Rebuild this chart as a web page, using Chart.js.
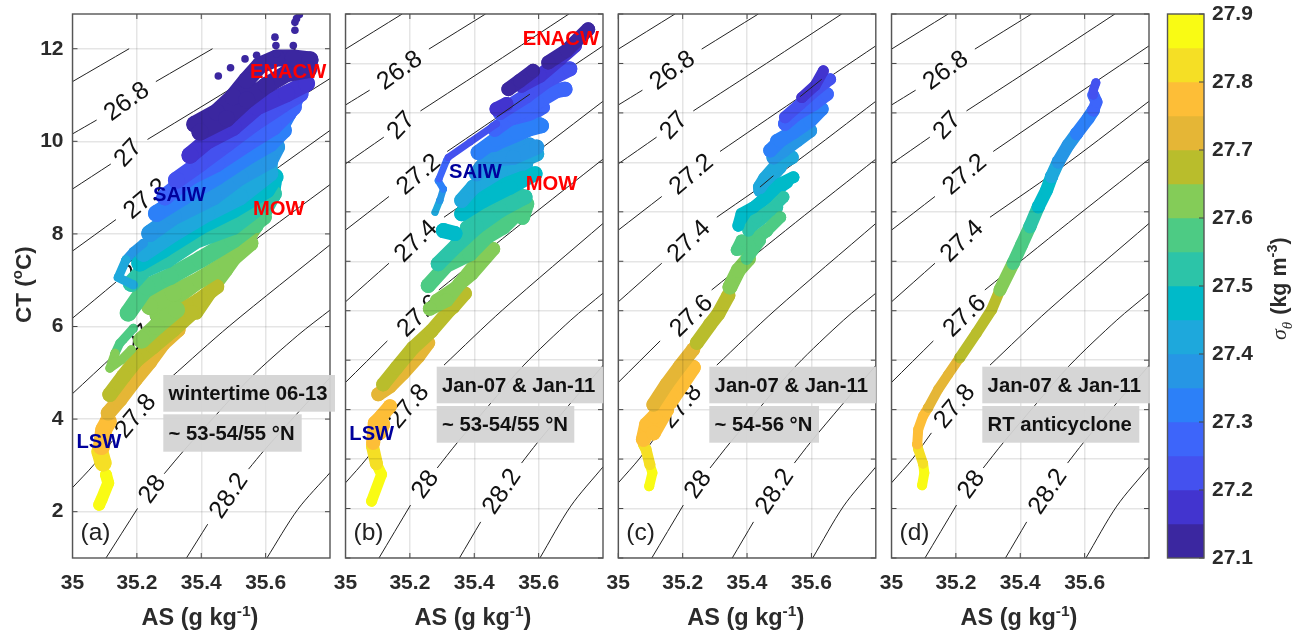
<!doctype html>
<html lang="en">
<head>
<meta charset="UTF-8" />
<title>CT-AS diagrams</title>
<script src="https://cdn.jsdelivr.net/npm/chart.js"></script>
<style>
  body { margin: 0; background: #fff; }
  canvas { position: absolute; left: 0; top: 0; }
</style>
</head>
<body>
<canvas id="panelA" width="1298" height="634"></canvas>
<canvas id="panelB" width="1298" height="634"></canvas>
<canvas id="panelC" width="1298" height="634"></canvas>
<canvas id="panelD" width="1298" height="634"></canvas>
<canvas id="colorbar" width="1298" height="634"></canvas>
<script>
// density bins, lightest first so the darker ones paint over them
const sigmaBins = [27.85, 27.8, 27.75, 27.7, 27.65, 27.6, 27.55, 27.5, 27.45, 27.4, 27.35, 27.3, 27.25, 27.2, 27.15, 27.1];
const binColors = ['#f9fb14', '#f5df25', '#fdbe37', '#e5b636', '#b9bd2c', '#84cc58', '#4dcb84', '#2cc4a8',
  '#00bac9', '#1ea8dc', '#2696e5', '#2c80f8', '#3d65fa', '#4451ef', '#4234cf', '#3b27a0'];
const sigmaTicks = [27.1, 27.2, 27.3, 27.4, 27.5, 27.6, 27.7, 27.8, 27.9];
const asTicks = [35, 35.2, 35.4, 35.6];
const ctTicksA = [2, 4, 6, 8, 10, 12];
const ctTicksOther = [1, 2, 3, 4, 5, 6, 7, 8, 9, 10, 11, 12];

// isopycnals, null = gap left for the inline label
const contourAS = [
  [35, 35.176],
  [35, 35.075, null, 35.259, 35.435],
  [35, 35.119, null, 35.233, 35.46, 35.694],
  [35, 35.135, null, 35.316, 35.55, 35.801],
  [35, 35.135, null, 35.306, 35.55, 35.801],
  [35, 35.13, null, 35.29, 35.55, 35.801],
  [35, 35.067, 35.124, null, 35.306, 35.487, 35.801],
  [35.104, 35.202, null, 35.285, 35.347, 35.446, 35.554, 35.7, 35.801],
  [35.354, 35.42, null, 35.547, 35.596, 35.694, 35.801],
  [35.604, 35.7, 35.801]
];
const contourCT = [
  [11.29, 12],
  [10.16, 10.46, null, 11.29, 12],
  [8.97, 9.51, null, 10.04, 11, 12],
  [7.63, 8.31, null, 9.22, 10.26, 11.36],
  [6.18, 6.96, null, 7.89, 9.0, 10.24],
  [4.55, 5.39, null, 6.42, 7.78, 9.07],
  [2.52, 3.02, 3.53, null, 4.9, 6.01, 7.77],
  [1, 2.07, null, 2.82, 3.33, 4.09, 4.9, 5.81, 6.36],
  [1, 1.73, null, 2.92, 3.33, 4.09, 4.9],
  [1, 2.05, 2.85]
];
const contourLabels = ['26.8', '27', '27.2', '27.4', '27.6', '27.8', '28', '28.2'];
const contourLabelAS = [35.169, 35.174, 35.228, 35.22, 35.228, 35.197, 35.249, 35.487];
const contourLabelCT = [10.85, 9.74, 8.75, 7.4, 5.89, 4.06, 2.48, 2.34];
const contourLabelRot = [-36, -47, -40, -44, -44, -50, -54, -56];

// panel (a), wintertime 06-13
const panelA_as = [
  [35.104, 35.111, 35.09, 35.083],
  [35.085, 35.095],
  [35.09, 35.097, 35.111],
  [35.111, 35.147, 35.194, 35.24, 35.282, 35.328],
  [35.116, 35.158, 35.199, 35.251, 35.313, 35.37, null, 35.313, 35.396, 35.448],
  [35.215, 35.261, 35.323, null, 35.24, 35.313, 35.396, 35.479, 35.551],
  [35.173, 35.23, 35.303, 35.396, 35.499, 35.593],
  [35.183, 35.22, 35.292, 35.385, 35.499, 35.593, 35.624],
  [35.209, 35.282, 35.396, 35.499, 35.603, 35.629],
  [35.22, 35.313, 35.417, 35.52, 35.613],
  [35.24, 35.313, 35.437, 35.52, 35.613, 35.634],
  [35.261, 35.344, 35.448, 35.541, 35.613, 35.655],
  [35.287, 35.365, 35.448, 35.541, 35.624, 35.686],
  [35.323, 35.396, 35.479, 35.562, 35.655, 35.707],
  [35.365, 35.417, 35.499, 35.572, 35.665, 35.727],
  [35.38, 35.448, 35.499, 35.541, 35.582, 35.634, 35.686, 35.738, null, 35.396, 35.479, 35.541, 35.603, 35.665, 35.733]
];
const panelA_ct = [
  [2.8, 2.62, 2.26, 2.15],
  [3.3, 3.05],
  [3.41, 3.77, 3.95],
  [4.13, 4.42, 4.85, 5.24, 5.64, 5.93],
  [4.53, 4.92, 5.28, 5.57, 5.93, 6.29, null, 6.22, 6.58, 6.86],
  [5.71, 6, 6.36, null, 6.43, 6.72, 7.01, 7.37, 7.8],
  [6.29, 6.86, 7.08, 7.44, 7.87, 8.37],
  [6.93, 7.22, 7.44, 7.87, 8.16, 8.66, 8.87],
  [7.37, 7.66, 8.16, 8.52, 8.95, 9.23],
  [7.58, 8.01, 8.44, 8.8, 9.31],
  [8.01, 8.37, 8.8, 9.23, 9.59, 9.88],
  [8.44, 8.8, 9.23, 9.66, 9.95, 10.24],
  [8.8, 9.23, 9.52, 9.95, 10.31, 10.74],
  [9.16, 9.52, 9.95, 10.38, 10.81, 11.03],
  [9.7, 10, 10.3, 10.74, 11.03, 11.25],
  [10.37, 10.63, 10.96, 11.32, 11.64, 11.8, 11.8, 11.76, null, 10.2, 10.49, 10.89, 11.21, 11.46, 11.55]
];
const widthsA = [12, 17, 17, 15, 15, 17, 17, 17, 17, 17, 17, 17, 17, 17, 17, 17];
const armsA_as = [
  [35.22, 35.189, 35.166],
  [35.166, 35.142, 35.189],
  [35.189, 35.147, 35.132],
  [35.132, 35.116, 35.152, 35.183]
];
const armsA_ct = [
  [7.8, 7.62, 7.44],
  [7.44, 7.06, 6.9],
  [5.96, 5.64, 5.42],
  [5.42, 5.1, 5.28, 5.5]
];
const armsA_bin = [10, 9, 6, 5];
// points under the stripes, along the right edge and in the gaps
const underA_as = [
  [35.712, 35.676], [35.676, 35.639], [35.639, 35.619], [35.619, 35.616], [35.616, 35.629, 35.624],
  [35.624, 35.603], [35.603, 35.572], [35.572, 35.541], [35.541, 35.479, 35.448], [35.448, 35.385],
  [35.17, 35.3], [35.26, 35.42], [35.2, 35.3]
];
const underA_ct = [
  [11.1, 10.6], [10.6, 10.13], [10.13, 9.66], [9.66, 9.31], [9.31, 9.09, 8.8],
  [8.8, 8.52], [8.52, 8.16], [8.16, 7.83], [7.83, 7.22, 6.93], [6.93, 6.29],
  [5.05, 6.05], [6.25, 7.1], [6.5, 7.0]
];
const underA_bin = [12, 11, 10, 9, 8, 7, 6, 5, 5, 4, 4, 5, 6];
const outlierA_as = [35.453, 35.491, 35.536, 35.572, 35.629, 35.632, 35.634, 35.691, 35.691, 35.686, 35.705, 35.696];
const outlierA_ct = [11.41, 11.59, 11.78, 11.86, 12.25, 12.07, 11.89, 12.57, 12.4, 12.07, 12.74, 12.65];

// panel (b)
const panelB_as = [
  [35.081, 35.112, 35.096],
  [35.096, 35.084],
  [35.086, 35.091, 35.112, 35.138, null, 35.107, 35.117],
  [35.102, 35.138, 35.179, 35.226, 35.257],
  [35.117, 35.159, 35.21, 35.267, 35.324, 35.335, 35.371],
  [35.262, 35.314, 35.355, 35.392, 35.459],
  [35.257, 35.314, 35.387, 35.438, 35.49, 35.563, 35.55],
  [35.288, 35.345, 35.407, 35.48, 35.558],
  [35.304, 35.34, null, 35.361, 35.428, 35.511, 35.589],
  [35.361, 35.397, 35.48, 35.594],
  [35.407, 35.438, 35.521, 35.594],
  [35.412, 35.469, 35.532, 35.609],
  [35.464, 35.521, 35.594, 35.656, 35.682],
  [35.48, 35.563, 35.625, 35.697],
  [35.469, 35.5, null, 35.547, 35.604, 35.666, 35.713],
  [35.506, 35.542, 35.583, null, 35.63, 35.687, 35.754]
];
const panelB_ct = [
  [2.15, 2.69, 2.91],
  [2.91, 3.26],
  [3.33, 3.73, 3.87, 4.07, null, 3.53, 3.7],
  [4.31, 4.47, 4.74, 5.08, 5.35],
  [4.51, 4.85, 5.25, 5.59, 6.02, 6.08, 6.35],
  [6.04, 6.21, 6.55, 6.75, 7.25],
  [6.51, 6.92, 7.15, 7.49, 7.69, 8.16, 7.89],
  [6.95, 7.32, 7.69, 8.03, 8.3],
  [7.62, 7.56, null, 7.96, 8.23, 8.5, 8.77],
  [8.23, 8.5, 8.83, 9.17],
  [8.77, 9.04, 9.1, 9.31],
  [9.2, 9.47, 9.61, 9.74],
  [9.67, 9.94, 10.21, 10.45, 10.48],
  [10.01, 10.35, 10.65, 10.89],
  [10.08, 10.18, null, 10.55, 10.75, 11.09, 11.36],
  [10.48, 10.65, 10.85, null, 11.02, 11.26, 11.69]
];
const widthsB = [11, 13, 14, 14, 14, 14, 15, 15, 15, 15, 15, 15, 15, 15, 14, 14];
const armsB_as = [
  [35.278, 35.293],
  [35.293, 35.304],
  [35.304, 35.288],
  [35.291, 35.314],
  [35.319, 35.387, 35.469]
];
const armsB_ct = [
  [7.99, 8.23],
  [8.23, 8.46],
  [8.46, 8.63],
  [8.67, 9.04],
  [9.1, 9.41, 9.78]
];
const armsB_bin = [9, 10, 11, 12, 13];
const underB_as = [
  [35.283, 35.345, 35.428], [35.345, 35.438, 35.521], [35.376, 35.469, 35.542], [35.387, 35.469, 35.552],
  [35.397, 35.48, 35.563], [35.418, 35.5, 35.573], [35.428, 35.511, 35.604], [35.49, 35.542, 35.615],
  [35.521, 35.604], [35.583, 35.656]
];
const underB_ct = [
  [6.21, 6.48, 7.15], [7.02, 7.62, 7.96], [7.69, 8.16, 8.36], [8.09, 8.5, 8.7],
  [8.36, 8.7, 8.97], [8.9, 9.17, 9.37], [9.24, 9.44, 9.78], [9.57, 9.81, 10.11],
  [10.11, 10.45], [10.65, 10.99]
];
const underB_bin = [5, 6, 7, 8, 9, 10, 11, 12, 13, 14];
const overB_as = [35.469, 35.573];
const overB_ct = [9.91, 10.38];

// panel (c)
const panelC_as = [
  [35.096, 35.106, 35.098],
  [35.098, 35.086, 35.078],
  [35.078, 35.088, 35.114, 35.161, 35.197, 35.233, null, 35.109, 35.15],
  [35.109, 35.15, 35.192, 35.233],
  [35.244, 35.285, 35.311, 35.342],
  [35.347, 35.373, 35.404],
  [35.368, 35.383, 35.42, 35.461, 35.503, null, 35.399, 35.44],
  [35.404, 35.43, 35.472, 35.513],
  [35.373, 35.383, 35.42, 35.461, 35.503, 35.544],
  [35.44, 35.456, 35.492, 35.539],
  [35.482, 35.513, 35.554, 35.596],
  [35.472, 35.503, 35.544, 35.596, 35.632],
  [35.518, 35.554, 35.606, 35.648],
  [35.518, 35.565, 35.617, 35.658],
  [35.57, 35.611, 35.637],
  []
];
const panelC_ct = [
  [2.45, 2.72, 2.89],
  [2.89, 3.2, 3.3],
  [3.4, 3.7, 3.87, 4.15, 4.5, 4.85, null, 3.53, 4.0],
  [4.1, 4.51, 4.88, 5.22],
  [5.35, 5.72, 5.94, 6.31],
  [6.48, 6.82, 7.05],
  [7.23, 7.42, 7.42, 7.62, 7.89, null, 7.05, 7.42],
  [7.62, 7.89, 8.03, 8.3],
  [7.72, 7.96, 8.09, 8.3, 8.57, 8.7],
  [8.5, 8.67, 8.94, 9.1],
  [9.1, 9.24, 9.44, 9.64],
  [9.24, 9.44, 9.61, 9.84, 10.08],
  [9.78, 9.98, 10.18, 10.38],
  [9.91, 10.18, 10.48, 10.68],
  [10.31, 10.55, 10.85],
  []
];
const widthsC = [10, 11, 15, 14, 14, 15, 12, 12, 12, 14, 14, 14, 14, 12, 11, 11];
const underC_as = [
  [35.534, 35.617], [35.492, 35.565], [35.482, 35.539], [35.44, 35.503], [35.389, 35.472, 35.523],
  [35.409, 35.492], [35.378, 35.461], [35.109, 35.161], [35.14, 35.212]
];
const underC_ct = [
  [9.81, 10.31], [9.44, 9.71], [9.1, 9.37], [8.43, 8.9], [7.89, 8.36, 8.6],
  [7.69, 8.09], [7.25, 7.62], [3.73, 4.14], [4.27, 4.81]
];
const underC_bin = [12, 11, 10, 9, 8, 7, 6, 2, 3];
const overC_as = [35.565, 35.632, null, 35.44, 35.482];
const overC_ct = [10.33, 10.68, null, 8.5, 8.73];

// panel (d), single profile
const panelD_as = [
  [35.095, 35.102, 35.098],
  [35.098, 35.083, 35.08],
  [35.08, 35.083, 35.098, 35.114],
  [35.114, 35.145, 35.176, 35.212],
  [35.212, 35.264, 35.311, 35.337],
  [35.337, 35.378],
  [35.378, 35.404, 35.43],
  [35.43, 35.456],
  [35.456, 35.482, 35.497],
  [35.497, 35.518],
  [35.518, 35.549, 35.575],
  [35.575, 35.611, 35.627],
  [35.627, 35.637, 35.627],
  [35.627, 35.627, 35.635],
  [],
  []
];
const panelD_ct = [
  [2.47, 2.72, 2.91],
  [2.91, 3.2, 3.3],
  [3.3, 3.6, 3.87, 4.04],
  [4.04, 4.41, 4.71, 5.05],
  [5.05, 5.55, 6.02, 6.42],
  [6.42, 6.96],
  [6.96, 7.33, 7.7],
  [7.7, 8.1],
  [8.1, 8.44, 8.71],
  [8.71, 9.01],
  [9.01, 9.35, 9.58],
  [9.58, 9.89, 10.05],
  [10.05, 10.22, 10.36],
  [10.36, 10.46, 10.61],
  [],
  []
];
const widthsD = [10, 10, 10, 10, 11, 13, 13, 13, 13, 13, 13, 13, 12, 9, 8, 8];

const FONT = "'Liberation Sans', Arial, sans-serif";
const TEXT = '#2b2b2b';
const RED = '#ff0000';
const NAVY = '#00009c';
Chart.defaults.animation = false;
Chart.defaults.font.family = FONT;

function pts(xs, ys) {
  return xs.map((x, i) => ({ x: x, y: ys[i] }));
}

// text made of runs, so superscripts can stay real text
function drawRuns(ctx, x, y, rot, runs) {
  ctx.save();
  ctx.translate(x, y);
  ctx.rotate(rot * Math.PI / 180);
  ctx.textAlign = 'left';
  ctx.textBaseline = 'alphabetic';
  ctx.fillStyle = TEXT;
  let pos = 0;
  runs.forEach((r) => {
    ctx.font = r.font;
    ctx.fillText(r.t, pos, r.dy || 0);
    pos += ctx.measureText(r.t).width + (r.gap || 0);
  });
  ctx.restore();
}

function drawBox(ctx, area) {
  ctx.strokeStyle = '#555';
  ctx.lineWidth = 1.4;
  ctx.strokeRect(area.left, area.top, area.right - area.left, area.bottom - area.top);
}

function panelPlugin(p) {
  return {
    id: 'panel' + p.tag,
    beforeDatasetsDraw(chart) {
      const ctx = chart.ctx;
      const sx = chart.scales.x;
      const sy = chart.scales.y;
      ctx.save();
      ctx.fillStyle = '#111';
      ctx.font = '25px ' + FONT;
      ctx.textAlign = 'center';
      ctx.textBaseline = 'middle';
      contourLabels.forEach((t, i) => {
        ctx.save();
        ctx.translate(sx.getPixelForValue(contourLabelAS[i]), sy.getPixelForValue(contourLabelCT[i]));
        ctx.rotate(contourLabelRot[i] * Math.PI / 180);
        ctx.fillText(t, 0, 0);
        ctx.restore();
      });
      ctx.restore();
    },
    afterDraw(chart) {
      const ctx = chart.ctx;
      const a = chart.chartArea;
      const sx = chart.scales.x;
      const sy = chart.scales.y;
      // inward ticks on all four sides
      ctx.save();
      ctx.strokeStyle = '#444';
      ctx.lineWidth = 1;
      ctx.beginPath();
      asTicks.forEach((v) => {
        const px = sx.getPixelForValue(v);
        ctx.moveTo(px, a.bottom); ctx.lineTo(px, a.bottom - 5);
        ctx.moveTo(px, a.top); ctx.lineTo(px, a.top + 5);
      });
      p.ctTicks.forEach((v) => {
        const py = sy.getPixelForValue(v);
        ctx.moveTo(a.left, py); ctx.lineTo(a.left + 5, py);
        ctx.moveTo(a.right, py); ctx.lineTo(a.right - 5, py);
      });
      ctx.stroke();
      drawBox(ctx, a);
      ctx.textBaseline = 'middle';
      ctx.textAlign = 'left';
      // grey note boxes
      p.notes.forEach((n) => {
        ctx.fillStyle = 'rgba(212,212,212,0.95)';
        ctx.fillRect(n.x, n.y, n.w, n.h);
        ctx.fillStyle = '#111';
        ctx.font = 'bold 20.3px ' + FONT;
        ctx.fillText(n.t, n.x + 5.3, n.y + n.h / 2 + 1);
      });
      // water mass names
      ctx.font = 'bold 20.2px ' + FONT;
      p.masses.forEach((m) => {
        ctx.fillStyle = m.c;
        ctx.fillText(m.t, m.x, m.y);
      });
      ctx.fillStyle = '#222';
      ctx.font = '24.5px ' + FONT;
      ctx.fillText(p.letter, a.left + 8, 533);
      ctx.restore();
      drawRuns(ctx, a.left + 69, 625, 0, [
        { t: 'AS (g kg', font: 'bold 23.5px ' + FONT },
        { t: '-1', font: 'bold 15.5px ' + FONT, dy: -9 },
        { t: ')', font: 'bold 23.5px ' + FONT }
      ]);
      if (p.tag === 'A') {
        drawRuns(ctx, 31, 323, -90, [
          { t: 'CT (', font: 'bold 22.5px ' + FONT },
          { t: 'o', font: 'bold 15px ' + FONT, dy: -9 },
          { t: 'C)', font: 'bold 22.5px ' + FONT }
        ]);
      }
    }
  };
}

const panels = [
  { tag: 'A', id: 'panelA', left: 72.5, ctMax: 12.75, ctTicks: ctTicksA, showCt: true, letter: '(a)',
    as: panelA_as, ct: panelA_ct, widths: widthsA,
    armsAs: armsA_as, armsCt: armsA_ct, armsBin: armsA_bin, armWidth: 9,
    underAs: underA_as, underCt: underA_ct, underBin: underA_bin, underWidth: 13,
    notes: [
      { t: 'wintertime 06-13', x: 163.3, y: 375, w: 171.7, h: 36.7 },
      { t: '~ 53-54/55 °N', x: 163.3, y: 414.3, w: 138.4, h: 37.4 }
    ],
    masses: [
      { t: 'ENACW', x: 250, y: 72, c: RED }, { t: 'SAIW', x: 153, y: 195, c: NAVY },
      { t: 'MOW', x: 253, y: 209, c: RED }, { t: 'LSW', x: 76.5, y: 442, c: NAVY }
    ] },
  { tag: 'B', id: 'panelB', left: 345.5, ctMax: 12, ctTicks: ctTicksOther, showCt: false, letter: '(b)',
    as: panelB_as, ct: panelB_ct, widths: widthsB, overAs: overB_as, overCt: overB_ct,
    armsAs: armsB_as, armsCt: armsB_ct, armsBin: armsB_bin, armWidth: 7,
    underAs: underB_as, underCt: underB_ct, underBin: underB_bin, underWidth: 13,
    notes: [
      { t: 'Jan-07 & Jan-11', x: 436.7, y: 366.7, w: 166.6, h: 36.6 },
      { t: '~ 53-54/55 °N', x: 436.7, y: 406, w: 137.6, h: 36.7 }
    ],
    masses: [
      { t: 'ENACW', x: 522.7, y: 39.5, c: RED }, { t: 'SAIW', x: 449, y: 172, c: NAVY },
      { t: 'MOW', x: 525.7, y: 184.5, c: RED }, { t: 'LSW', x: 349.3, y: 434, c: NAVY }
    ] },
  { tag: 'C', id: 'panelC', left: 618.3, ctMax: 12, ctTicks: ctTicksOther, showCt: false, letter: '(c)',
    as: panelC_as, ct: panelC_ct, widths: widthsC, overAs: overC_as, overCt: overC_ct,
    underAs: underC_as, underCt: underC_ct, underBin: underC_bin, underWidth: 13,
    notes: [
      { t: 'Jan-07 & Jan-11', x: 709.3, y: 366.7, w: 166.7, h: 36.6 },
      { t: '~ 54-56 °N', x: 709.3, y: 406, w: 109.7, h: 36.7 }
    ],
    masses: [] },
  { tag: 'D', id: 'panelD', left: 891.5, ctMax: 12, ctTicks: ctTicksOther, showCt: false, letter: '(d)',
    as: panelD_as, ct: panelD_ct, widths: widthsD,
    notes: [
      { t: 'Jan-07 & Jan-11', x: 982.3, y: 366.7, w: 167.7, h: 36.6 },
      { t: 'RT anticyclone', x: 982.3, y: 406, w: 157, h: 36.7 }
    ],
    masses: [] }
];

function band(xs, ys, color, width, order) {
  return {
    data: pts(xs, ys), showLine: true, borderColor: color, backgroundColor: color, borderWidth: width,
    borderCapStyle: 'round', borderJoinStyle: 'round', pointRadius: width / 2, pointBorderWidth: 0, order: order
  };
}

panels.forEach((p) => {
  const datasets = [];
  contourAS.forEach((xs, i) => {
    datasets.push({
      data: pts(xs, contourCT[i]), showLine: true, borderColor: '#222', borderWidth: 1, tension: 0.3,
      pointRadius: 0, order: 100
    });
  });
  (p.underAs || []).forEach((xs, i) => {
    datasets.push(band(xs, p.underCt[i], binColors[p.underBin[i]], p.underWidth, 60));
  });
  p.as.forEach((xs, i) => {
    datasets.push(band(xs, p.ct[i], binColors[i], p.widths[i], 50 - i));
  });
  (p.armsAs || []).forEach((xs, i) => {
    datasets.push(band(xs, p.armsCt[i], binColors[p.armsBin[i]], p.armWidth, 30 - i));
  });
  if (p.overAs) {
    datasets.push({
      data: pts(p.overAs, p.overCt), showLine: true, borderColor: '#222', borderWidth: 1,
      pointRadius: 0, order: 0
    });
  }
  if (p.tag === 'A') {
    datasets.push({
      data: pts(outlierA_as, outlierA_ct), backgroundColor: binColors[15],
      pointRadius: 3.8, pointBorderWidth: 0, order: 1
    });
  }
  new Chart(document.getElementById(p.id), {
    type: 'scatter',
    data: { datasets: datasets },
    options: {
      responsive: false,
      layout: { padding: { left: p.left - 60, right: 1298 - p.left - 257.5, top: 14, bottom: 14 } },
      plugins: { legend: { display: false }, tooltip: { enabled: false } },
      scales: {
        x: {
          type: 'linear', min: 35, max: 35.8,
          afterBuildTicks: (s) => { s.ticks = asTicks.map((v) => ({ value: v })); },
          afterFit: (s) => { s.height = 62; s.paddingLeft = 0; s.paddingRight = 0; },
          grid: { color: 'rgba(0,0,0,0.1)', lineWidth: 1.5, drawTicks: false, z: 1 },
          border: { display: false },
          ticks: { color: TEXT, font: { size: 21, weight: 'bold' }, padding: 13, autoSkip: false, maxRotation: 0,
            callback: (v) => String(v) }
        },
        y: {
          type: 'linear', min: 1, max: p.ctMax,
          afterBuildTicks: (s) => { s.ticks = p.ctTicks.map((v) => ({ value: v })); },
          afterFit: (s) => { s.width = 60; s.paddingTop = 0; s.paddingBottom = 0; },
          grid: { color: 'rgba(0,0,0,0.1)', lineWidth: 1.5, drawTicks: false, z: 1 },
          border: { display: false },
          ticks: { display: p.showCt, color: TEXT, font: { size: 21, weight: 'bold' }, padding: 9, autoSkip: false,
            callback: (v) => String(v) }
        }
      }
    },
    plugins: [panelPlugin(p)]
  });
});

// colour bar, one floating bar per density bin
const barPlugin = {
  id: 'barFrame',
  afterDraw(chart) {
    const ctx = chart.ctx;
    const a = chart.chartArea;
    const sy = chart.scales.y;
    ctx.save();
    ctx.strokeStyle = '#444';
    ctx.lineWidth = 1;
    ctx.beginPath();
    sigmaTicks.forEach((v) => {
      const py = sy.getPixelForValue(v);
      ctx.moveTo(a.right, py); ctx.lineTo(a.right - 5, py);
    });
    ctx.stroke();
    drawBox(ctx, a);
    ctx.restore();
    drawRuns(ctx, 1286, 340, -90, [
      { t: 'σ', font: 'italic 22px "Liberation Serif"' },
      { t: 'θ', font: 'italic 15px "Liberation Serif"', dy: 6, gap: 7 },
      { t: '(kg m', font: 'bold 21.5px ' + FONT },
      { t: '-3', font: 'bold 14.5px ' + FONT, dy: -9 },
      { t: ')', font: 'bold 21.5px ' + FONT }
    ]);
  }
};

new Chart(document.getElementById('colorbar'), {
  type: 'bar',
  data: {
    labels: [''],
    datasets: sigmaBins.map((b, i) => ({
      data: [[b, b + 0.05]], backgroundColor: binColors[i], borderWidth: 0,
      categoryPercentage: 1, barPercentage: 1
    }))
  },
  options: {
    responsive: false,
    layout: { padding: { left: 1167.5, right: 34, top: 14, bottom: 14 } },
    plugins: { legend: { display: false }, tooltip: { enabled: false } },
    scales: {
      x: {
        stacked: true,
        afterFit: (s) => { s.height = 62; s.paddingLeft = 0; s.paddingRight = 0; },
        grid: { display: false }, border: { display: false }, ticks: { display: false }
      },
      y: {
        position: 'right', min: 27.1, max: 27.9,
        afterBuildTicks: (s) => { s.ticks = sigmaTicks.map((v) => ({ value: v })); },
        afterFit: (s) => { s.width = 60; s.paddingTop = 0; s.paddingBottom = 0; },
        grid: { display: false, drawTicks: false }, border: { display: false },
        ticks: { color: TEXT, font: { size: 21, weight: 'bold' }, padding: 8, autoSkip: false,
          callback: (v) => v.toFixed(1) }
      }
    }
  },
  plugins: [barPlugin]
});
</script>
</body>
</html>
